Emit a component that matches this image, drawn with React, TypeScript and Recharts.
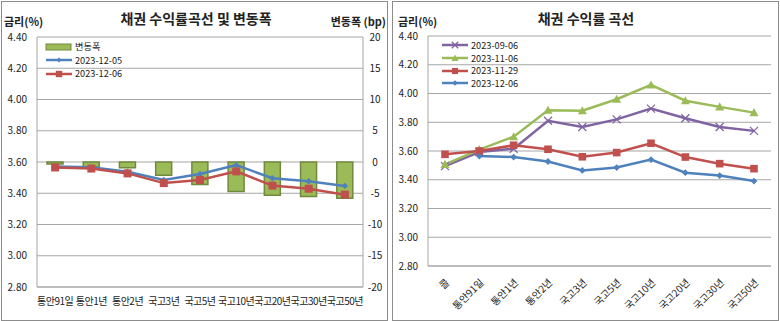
import React from "react"
import { ComposedChart, LineChart, Bar, Line, XAxis, YAxis, CartesianGrid, Legend } from "recharts"

// 왼쪽: 채권 수익률곡선 및 변동폭
const spreadCategories = ["통안91일", "통안1년", "통안2년", "국고3년", "국고5년", "국고10년", "국고20년", "국고30년", "국고50년"]
const spreadBp = [-0.3, -0.8, -0.9, -2.1, -3.6, -4.7, -5.3, -5.5, -5.8]
const yield1205 = [3.572, 3.566, 3.538, 3.485, 3.523, 3.58, 3.496, 3.477, 3.447]
const yield1206 = [3.565, 3.558, 3.527, 3.465, 3.485, 3.54, 3.449, 3.429, 3.391]

const rateTicks = [2.8, 3.0, 3.2, 3.4, 3.6, 3.8, 4.0, 4.2, 4.4]
const bpTicks = [-20, -15, -10, -5, 0, 5, 10, 15, 20]

// 오른쪽: 채권 수익률 곡선
const curveCategories = ["콜", "통안91일", "통안1년", "통안2년", "국고3년", "국고5년", "국고10년", "국고20년", "국고30년", "국고50년"]
const curve0906 = [3.495, 3.593, 3.616, 3.81, 3.767, 3.82, 3.895, 3.828, 3.767, 3.74]
const curve1106 = [3.507, 3.61, 3.7, 3.884, 3.88, 3.96, 4.06, 3.95, 3.907, 3.867]
const curve1129 = [3.577, 3.6, 3.64, 3.612, 3.56, 3.589, 3.654, 3.558, 3.512, 3.477]
const curve1206 = [null, ...yield1206]

const FONT = '"Noto Sans CJK KR", "Noto Sans", sans-serif'
const BLUE = "#4F81BD"
const RED = "#C0504D"
const GREEN = "#9BBB59"
const GREEN_DARK = "#71893F"
const PURPLE = "#8064A2"
const GRID = "#A6A6A6"
const TEXT = "#222"

type Kind = "diamond" | "square" | "triangle" | "cross" | "bar"
type SeriesStyle = { kind: Kind; color: string; size: number }

const leftSeries: Record<string, SeriesStyle> = {
  bp: { kind: "bar", color: GREEN, size: 0 },
  y1205: { kind: "diamond", color: BLUE, size: 3.2 },
  y1206: { kind: "square", color: RED, size: 4 },
}
const rightSeries: Record<string, SeriesStyle> = {
  c0906: { kind: "cross", color: PURPLE, size: 4 },
  c1106: { kind: "triangle", color: GREEN, size: 4.5 },
  c1129: { kind: "square", color: RED, size: 3.8 },
  c1206: { kind: "diamond", color: BLUE, size: 3.4 },
}

const spreadData = spreadCategories.map((name, i) => ({
  name,
  bp: spreadBp[i],
  y1205: yield1205[i],
  y1206: yield1206[i],
}))

const curveData = curveCategories.map((name, i) => ({
  name,
  c0906: curve0906[i],
  c1106: curve1106[i],
  c1129: curve1129[i],
  c1206: curve1206[i],
}))

function Marker({ cx, cy, s }: { cx: number; cy: number; s: SeriesStyle }) {
  const r = s.size
  if (s.kind === "diamond")
    return <polygon points={`${cx},${cy - r} ${cx + r},${cy} ${cx},${cy + r} ${cx - r},${cy}`} fill={s.color} />
  if (s.kind === "square") return <rect x={cx - r} y={cy - r} width={r * 2} height={r * 2} fill={s.color} />
  if (s.kind === "triangle")
    return <polygon points={`${cx},${cy - r} ${cx + r},${cy + r * 0.8} ${cx - r},${cy + r * 0.8}`} fill={s.color} />
  if (s.kind === "cross")
    return (
      <g stroke={s.color} strokeWidth={1.3}>
        <line x1={cx - r} y1={cy - r} x2={cx + r} y2={cy + r} />
        <line x1={cx - r} y1={cy + r} x2={cx + r} y2={cy - r} />
      </g>
    )
  return null
}

const dotOf = (s: SeriesStyle, name: string) => (p: any) => {
  if (p.cx == null || p.cy == null || p.value == null) return <g key={`${name}-${p.index}`} />
  return (
    <g key={`${name}-${p.index}`}>
      <Marker cx={p.cx} cy={p.cy} s={s} />
    </g>
  )
}

// 엑셀 범례 모양: 선 + 가운데 마커, 시리즈 순서대로
function ExcelLegend({ payload, styles, rowHeight }: any) {
  const order = Object.keys(styles)
  const items = [...(payload || [])].sort((a: any, b: any) => order.indexOf(a.dataKey) - order.indexOf(b.dataKey))
  return (
    <div style={{ fontFamily: FONT, fontSize: 9.2, color: TEXT, lineHeight: `${rowHeight}px` }}>
      {items.map((entry: any) => {
        const s: SeriesStyle = styles[entry.dataKey]
        return (
          <div key={entry.dataKey} style={{ display: "flex", alignItems: "center", height: rowHeight }}>
            <svg width={28} height={10} style={{ marginRight: 2, flex: "none" }}>
              {s.kind === "bar" ? (
                <rect x={1} y={2} width={25} height={6} fill={GREEN} stroke={GREEN_DARK} strokeWidth={1} />
              ) : (
                <>
                  <line x1={1} y1={5} x2={27} y2={5} stroke={s.color} strokeWidth={2.5} />
                  <Marker cx={14} cy={5} s={{ ...s, size: s.size * 0.8 }} />
                </>
              )}
            </svg>
            <span>{entry.value}</span>
          </div>
        )
      })}
    </div>
  )
}

function SlantTick({ x, y, payload }: any) {
  const ax = x + 3
  const ay = y + 13
  return (
    <text
      x={ax}
      y={ay}
      dy="0.3em"
      textAnchor="end"
      transform={`rotate(-45, ${ax}, ${ay})`}
      fontSize={10}
      fontFamily={FONT}
      fill={TEXT}
    >
      {payload.value}
    </text>
  )
}

const axisTick = { fontSize: 10, fill: TEXT, fontFamily: FONT }

function Label({ x, y, w, align, size, bold, children }: any) {
  return (
    <div
      style={{
        position: "absolute",
        left: x,
        top: y,
        width: w,
        textAlign: align,
        fontSize: size,
        fontWeight: bold ? 700 : 400,
        fontFamily: FONT,
        color: TEXT,
        lineHeight: `${Math.round(size * 1.15)}px`,
        whiteSpace: "nowrap",
      }}
    >
      {children}
    </div>
  )
}

export default function App() {
  return (
    <div style={{ position: "fixed", left: 0, top: 0, width: 780, height: 321, background: "#fff", overflow: "hidden" }}>
      <div style={{ position: "absolute", left: 1, top: 1, width: 385, height: 318, border: "1px solid #8c8c8c" }} />
      <div style={{ position: "absolute", left: 392, top: 1, width: 385, height: 318, border: "1px solid #8c8c8c" }} />

      <Label x={0} y={10} w={392} align="center" size={14} bold>채권 수익률곡선 및 변동폭</Label>
      <Label x={4} y={15} size={11} bold>금리(%)</Label>
      <Label x={300} y={15} w={86} align="right" size={11} bold>변동폭 (bp)</Label>

      <Label x={391} y={10} w={390} align="center" size={14} bold>채권 수익률 곡선</Label>
      <Label x={398} y={15} size={11} bold>금리(%)</Label>

      <div style={{ position: "absolute", left: 0, top: 0 }}>
        <ComposedChart width={387} height={321} data={spreadData} margin={{ top: 37, right: 0, bottom: 0, left: 0 }}>
          <CartesianGrid vertical={false} stroke={GRID} yAxisId="rate" />
          <XAxis
            dataKey="name"
            interval={0}
            height={34}
            tickSize={0}
            tickMargin={11}
            tickLine={false}
            axisLine={{ stroke: GRID }}
            tick={{ ...axisTick, fontSize: 10, letterSpacing: -0.5 }}
          />
          <YAxis
            yAxisId="rate"
            width={37}
            domain={[2.8, 4.4]}
            ticks={rateTicks}
            tickFormatter={(v: number) => v.toFixed(2)}
            tickSize={0}
            tickMargin={10}
            tickLine={false}
            axisLine={{ stroke: GRID }}
            tick={axisTick}
          />
          <YAxis
            yAxisId="bp"
            orientation="right"
            width={24}
            domain={[-20, 20]}
            ticks={bpTicks}
            tickSize={0}
            tickMargin={12}
            tickLine={false}
            axisLine={{ stroke: GRID }}
            tick={{ ...axisTick, textAnchor: "middle" }}
          />
          <Legend
            layout="vertical"
            align="center"
            verticalAlign="middle"
            wrapperStyle={{ left: 45, top: 40, width: 120 }}
            content={(p: any) => <ExcelLegend payload={p.payload} styles={leftSeries} rowHeight={13.5} />}
          />
          <Bar yAxisId="bp" dataKey="bp" name="변동폭" barSize={16} fill={GREEN} stroke={GREEN_DARK} strokeWidth={1.5} isAnimationActive={false} />
          <Line yAxisId="rate" dataKey="y1205" name="2023-12-05" stroke={BLUE} strokeWidth={2.5} dot={dotOf(leftSeries.y1205, "a")} activeDot={false} isAnimationActive={false} />
          <Line yAxisId="rate" dataKey="y1206" name="2023-12-06" stroke={RED} strokeWidth={2.5} dot={dotOf(leftSeries.y1206, "b")} activeDot={false} isAnimationActive={false} />
        </ComposedChart>
      </div>

      <div style={{ position: "absolute", left: 391, top: 0 }}>
        <LineChart width={388} height={321} data={curveData} margin={{ top: 36, right: 8, bottom: 0, left: 0 }}>
          <CartesianGrid vertical={false} stroke={GRID} />
          <XAxis
            dataKey="name"
            interval={0}
            height={55}
            padding={{ left: 17, right: 17 }}
            tickSize={0}
            tickLine={false}
            axisLine={{ stroke: GRID }}
            tick={<SlantTick />}
          />
          <YAxis
            width={37}
            domain={[2.8, 4.4]}
            ticks={rateTicks}
            tickFormatter={(v: number) => v.toFixed(2)}
            tickSize={0}
            tickMargin={10}
            tickLine={false}
            axisLine={{ stroke: GRID }}
            tick={axisTick}
          />
          <Legend
            layout="vertical"
            align="center"
            verticalAlign="middle"
            wrapperStyle={{ left: 50, top: 39, width: 120 }}
            content={(p: any) => <ExcelLegend payload={p.payload} styles={rightSeries} rowHeight={12.7} />}
          />
          <Line dataKey="c0906" name="2023-09-06" stroke={PURPLE} strokeWidth={2.5} dot={dotOf(rightSeries.c0906, "c")} activeDot={false} isAnimationActive={false} />
          <Line dataKey="c1106" name="2023-11-06" stroke={GREEN} strokeWidth={2.5} dot={dotOf(rightSeries.c1106, "d")} activeDot={false} isAnimationActive={false} />
          <Line dataKey="c1129" name="2023-11-29" stroke={RED} strokeWidth={2.5} dot={dotOf(rightSeries.c1129, "e")} activeDot={false} isAnimationActive={false} />
          <Line dataKey="c1206" name="2023-12-06" stroke={BLUE} strokeWidth={2.5} dot={dotOf(rightSeries.c1206, "f")} activeDot={false} isAnimationActive={false} />
        </LineChart>
      </div>
    </div>
  )
}
